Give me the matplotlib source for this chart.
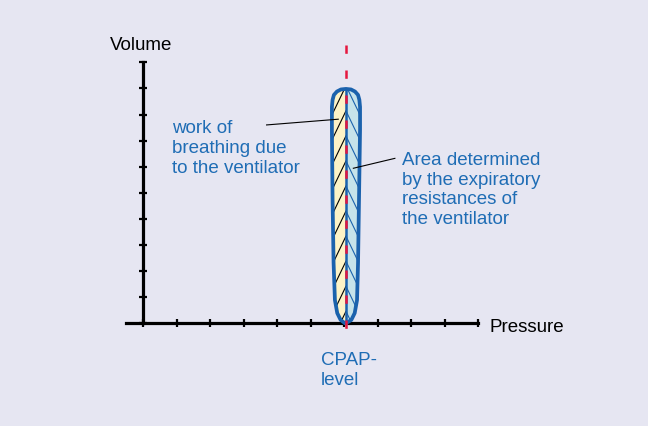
import numpy as np
import matplotlib
matplotlib.use("Agg")
import matplotlib.pyplot as plt
from matplotlib.patches import Polygon

# ---- data ----
cpap_level = 6.05
x_ticks = [0, 1, 2, 3, 4, 5, 6, 7, 8, 9, 10]
y_ticks = [0, 1, 2, 3, 4, 5, 6, 7, 8, 9, 10]

# inspiratory (left) limb: bottom to top
insp_volume = [0.0, 0.13, 0.39, 0.89, 2.32, 4.72, 7.41, 8.29, 8.56, 8.75, 8.88, 8.96, 8.98]
insp_pressure = [6.02, 5.89, 5.79, 5.72, 5.68, 5.65, 5.63, 5.63, 5.65, 5.69, 5.78, 5.90, 6.05]
# expiratory (right) limb: top to bottom
exp_volume = [8.98, 8.96, 8.88, 8.75, 8.56, 8.29, 7.41, 4.84, 2.31, 0.89, 0.39, 0.13, 0.0]
exp_pressure = [6.05, 6.20, 6.32, 6.41, 6.45, 6.47, 6.47, 6.44, 6.41, 6.38, 6.31, 6.21, 6.05]

bg = "#e6e6f2"
blue_text = "#1f6db5"
outline = "#1b62ad"
yellow = "#fdf3c6"
lightblue = "#c6e3ea"
red = "#e5173f"

W, H = 648, 426
fig = plt.figure(figsize=(W / 100, H / 100), dpi=100, facecolor=bg)
ax = fig.add_axes([0, 0, 1, 1])
ax.set_facecolor(bg)

# pixel mapping: x_px = 143.3 + 33.5 p ; y_px(top) = 323.3 - 26.1 v
ax.set_xlim(-143.3 / 33.5, (W - 143.3) / 33.5)
ax.set_ylim((323.3 - H) / 26.1, 323.3 / 26.1)

for s in ["top", "right"]:
    ax.spines[s].set_visible(False)
ax.spines["left"].set_position(("data", 0))
ax.spines["bottom"].set_position(("data", 0))
ax.spines["left"].set_bounds(0, 10)
ax.spines["bottom"].set_bounds(-0.52, 10)
for s in ["left", "bottom"]:
    ax.spines[s].set_linewidth(2.3)
    ax.spines[s].set_color("black")
ax.set_xticks(x_ticks)
ax.set_yticks(y_ticks)
ax.tick_params(direction="inout", length=6, width=1.6, color="black",
               labelbottom=False, labelleft=False)

# loop fills
left_poly = list(zip(insp_pressure, insp_volume)) + [(cpap_level, insp_volume[0])]
right_poly = list(zip(exp_pressure, exp_volume)) + [(cpap_level, exp_volume[0])]
lp = Polygon(left_poly, closed=True, facecolor=yellow, edgecolor="none", zorder=2)
rp = Polygon(right_poly, closed=True, facecolor=lightblue, edgecolor="none", zorder=2)
ax.add_patch(lp)
ax.add_patch(rp)

# hatch lines (chevrons) clipped to each half
step = 0.96
dv = 1.6
dp = 0.6
for k in np.arange(-0.5, 11, step):
    l1, = ax.plot([cpap_level, cpap_level - dp], [k, k - dv], color="black",
                  lw=0.8, zorder=3)
    l1.set_clip_path(lp)
    l2, = ax.plot([cpap_level, cpap_level + dp], [k, k - dv], color=outline,
                  lw=0.8, zorder=3)
    l2.set_clip_path(rp)

# center line
ax.plot([cpap_level, cpap_level], [0, 8.98], color=outline, lw=1.8, zorder=4)

# outline
ax.plot(insp_pressure + exp_pressure[1:], insp_volume + exp_volume[1:],
        color=outline, lw=2.7, zorder=5, solid_joinstyle="round",
        solid_capstyle="round")

# red dashed CPAP line (drawn top to bottom)
ax.plot([cpap_level, cpap_level], [10.66, -0.27], color=red, lw=1.8,
        linestyle=(0, (3.32, 6.68)), zorder=6)

fam = ["Liberation Sans", "DejaVu Sans"]
fs = 13.5
ls = 1.22
ax.text(-1.0, 10.97, "Volume", fontsize=fs, family=fam, color="black",
        ha="left", va="top")
ax.text(10.32, -0.16, "Pressure", fontsize=fs, family=fam, color="black",
        ha="left", va="center")
ax.text(5.3, -1.09, "CPAP-\nlevel", fontsize=fs, family=fam, color=blue_text,
        ha="left", va="top", linespacing=ls)
ax.text(0.855, 7.78, "work of\nbreathing due\nto the ventilator", fontsize=fs,
        family=fam, color=blue_text, ha="left", va="top", linespacing=ls)
ax.text(7.72, 6.575, "Area determined\nby the expiratory\nresistances of\nthe ventilator",
        fontsize=fs, family=fam, color=blue_text, ha="left", va="top",
        linespacing=ls)

# leader lines
ax.plot([3.68, 5.82], [7.6, 7.82], color="black", lw=0.8, zorder=7)
ax.plot([7.51, 6.27], [6.32, 5.94], color="black", lw=0.8, zorder=7)

fig.savefig("out.png", dpi=100, facecolor=bg)
